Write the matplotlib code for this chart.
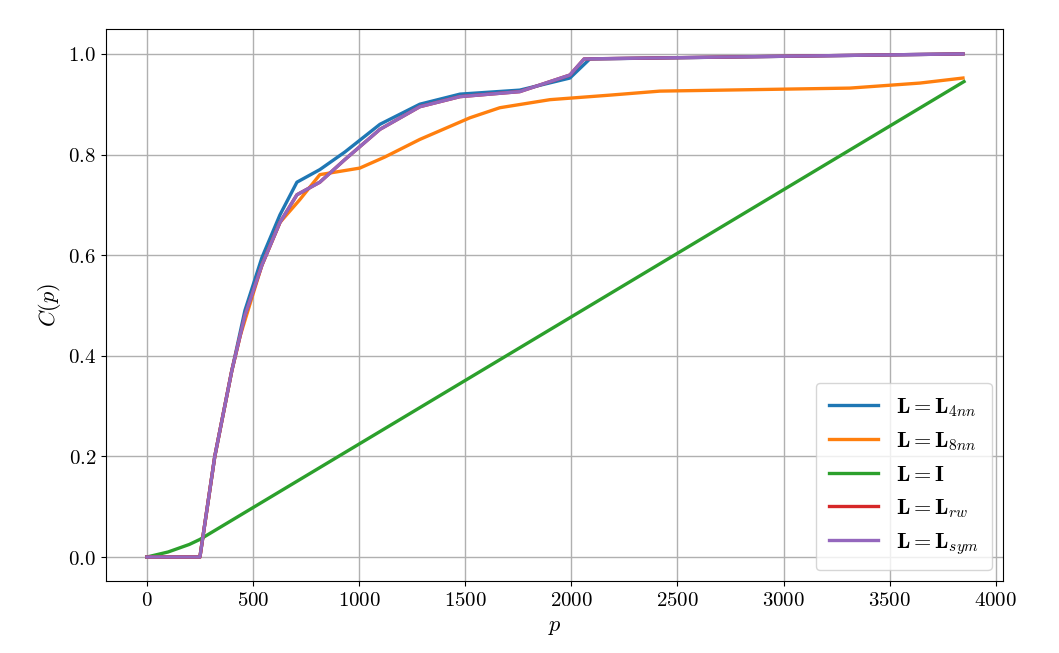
import matplotlib
matplotlib.use("Agg")
import matplotlib.pyplot as plt
plt.rcParams['mathtext.fontset'] = 'cm'
plt.rcParams['font.family'] = 'serif'
plt.rcParams['font.serif'] = ['DejaVu Serif']

blue_p = [0, 250, 320, 400, 462, 542, 627, 707, 815, 933, 1098, 1286, 1475, 1757, 1993, 2087, 3845]
blue_c = [0, 0, 0.2, 0.37, 0.49, 0.595, 0.68, 0.745, 0.77, 0.805, 0.86, 0.90, 0.92, 0.928, 0.952, 0.99, 1.0]
purple_p = [0, 250, 320, 400, 462, 542, 627, 707, 815, 933, 1098, 1286, 1475, 1757, 1993, 2060, 3845]
purple_c = [0, 0, 0.2, 0.37, 0.48, 0.58, 0.665, 0.72, 0.745, 0.79, 0.85, 0.895, 0.915, 0.925, 0.958, 0.99, 1.0]
orange_p = [0, 250, 320, 400, 440, 542, 627, 720, 815, 1003, 1121, 1286, 1522, 1663, 1899, 2181, 2417, 3312, 3642, 3845]
orange_c = [0, 0, 0.2, 0.37, 0.44, 0.58, 0.665, 0.71, 0.76, 0.773, 0.795, 0.83, 0.873, 0.893, 0.909, 0.918, 0.926, 0.932, 0.942, 0.952]
green_p = [0, 100, 200, 250, 3850]
green_c = [0, 0.01, 0.025, 0.035, 0.945]

fig = plt.figure(figsize=(10.59, 6.53), dpi=100)
ax = fig.add_axes([0.100, 0.110, 0.847, 0.846])
lw = 2.4
ax.plot(blue_p, blue_c, color='#1f77b4', lw=lw, label=r'$\mathbf{L}=\mathbf{L}_{4nn}$')
ax.plot(orange_p, orange_c, color='#ff7f0e', lw=lw, label=r'$\mathbf{L}=\mathbf{L}_{8nn}$')
ax.plot(green_p, green_c, color='#2ca02c', lw=lw, label=r'$\mathbf{L}=\mathbf{I}$')
ax.plot(purple_p, purple_c, color='#d62728', lw=lw, label=r'$\mathbf{L}=\mathbf{L}_{rw}$')
ax.plot(purple_p, purple_c, color='#9467bd', lw=lw, label=r'$\mathbf{L}=\mathbf{L}_{sym}$')
ax.set_xlim(-193, 4033)
ax.set_ylim(-0.048, 1.05)
xt = [0, 500, 1000, 1500, 2000, 2500, 3000, 3500, 4000]
yt = [0.0, 0.2, 0.4, 0.6, 0.8, 1.0]
ax.set_xticks(xt)
ax.set_xticklabels([f'${v}$' for v in xt], fontsize=15)
ax.set_yticks(yt)
ax.set_yticklabels([f'${v:.1f}$' for v in yt], fontsize=15)
ax.grid(True, color='#b0b0b0', lw=1)
ax.set_xlabel(r'$p$', fontsize=16)
ax.set_ylabel(r'$C(p)$', fontsize=16)
ax.legend(loc='lower right', fontsize=16, borderpad=0.6, handlelength=2.2)
fig.savefig('out.png', dpi=100)
